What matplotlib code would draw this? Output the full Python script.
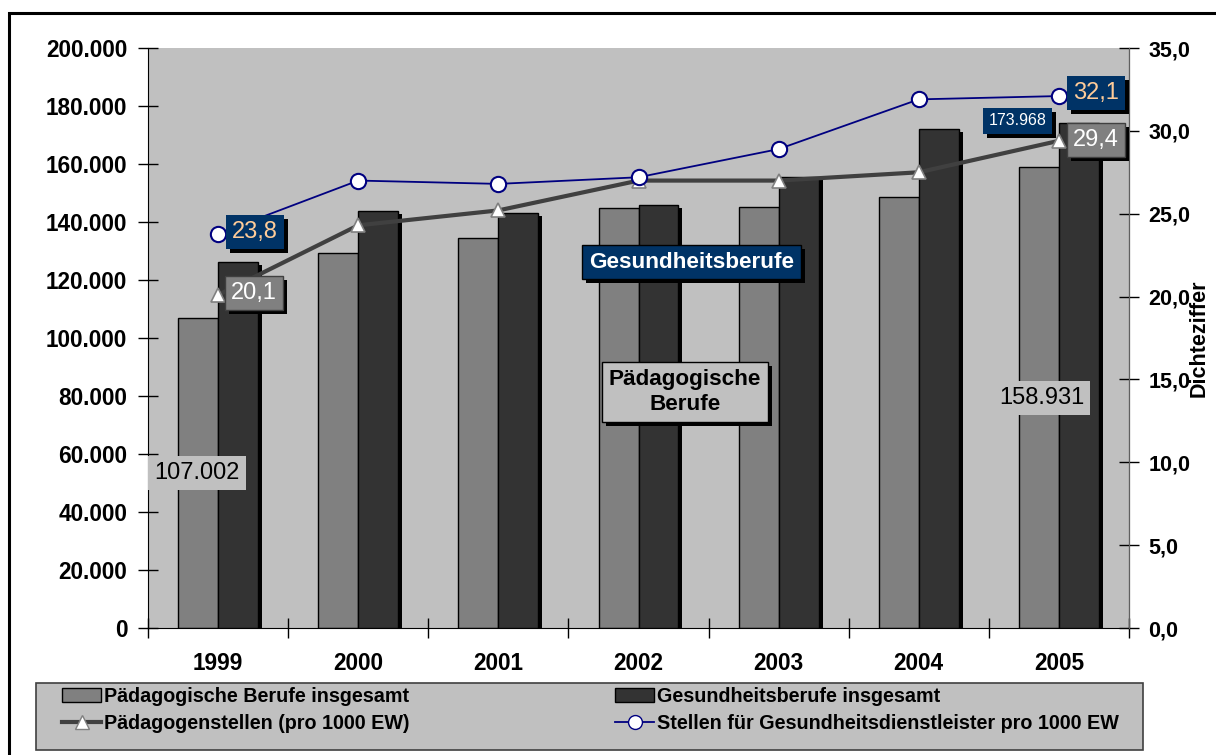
import numpy as np
import matplotlib
matplotlib.use("Agg")
import matplotlib.pyplot as plt
import matplotlib.transforms as mtransforms
from matplotlib.patches import Rectangle, Patch
from matplotlib.lines import Line2D

plt.rcParams['font.family'] = ['Liberation Sans', 'DejaVu Sans']

years = ["1999", "2000", "2001", "2002", "2003", "2004", "2005"]
paed_total = [107002, 129300, 134500, 144800, 145200, 148600, 158931]
gesund_total = [126200, 143800, 143100, 145900, 155500, 172100, 173968]
paed_density = [20.1, 24.3, 25.2, 27.0, 27.0, 27.5, 29.4]
gesund_density = [23.8, 27.0, 26.8, 27.2, 28.9, 31.9, 32.1]
left_ticks = [0, 20000, 40000, 60000, 80000, 100000, 120000, 140000, 160000, 180000, 200000]
right_ticks = [0, 5, 10, 15, 20, 25, 30, 35]

W, H = 1216, 755
fig = plt.figure(figsize=(W / 100, H / 100), dpi=100)
fig.patch.set_facecolor("white")

# figure frame
fig.add_artist(Rectangle((9 / W, -0.05), 1.2, 1 - 13 / H + 0.05, transform=fig.transFigure,
                         fill=False, edgecolor="black", linewidth=2.2))

L, R, T, B = 148, 1129, 48, 628
ax = fig.add_axes([L / W, 1 - B / H, (R - L) / W, (B - T) / H])
ax.set_facecolor("#C0C0C0")
ax2 = ax.twinx()

x = np.arange(len(years))
bw = 0.285
off = 0.1425
pad_c = "#808080"
ges_c = "#333333"

shadow = mtransforms.offset_copy(ax.transData, fig=fig, x=4, y=-3, units="dots")
ax.bar(x - off, paed_total, bw, color="black", transform=shadow, zorder=1)
ax.bar(x - off, paed_total, bw, color=pad_c, edgecolor="black", linewidth=1, zorder=2)
ax.bar(x + off, gesund_total, bw, color="black", transform=shadow, zorder=3)
ax.bar(x + off, gesund_total, bw, color=ges_c, edgecolor="black", linewidth=1, zorder=4)

ax.set_xlim(-0.5, len(years) - 0.5)
ax.set_ylim(0, 200000)
ax2.set_ylim(0, 35)

tfs = 16.3
ax.set_yticks(left_ticks)
ax.set_yticklabels([f"{v:,}".replace(",", ".") for v in left_ticks],
                   fontsize=tfs, fontweight="bold")
ax2.set_yticks(right_ticks)
ax2.set_yticklabels([f"{v:.1f}".replace(".", ",") for v in right_ticks],
                    fontsize=15.5, fontweight="bold")
ax.set_xticks(x)
ax.set_xticklabels(years, fontsize=tfs, fontweight="bold")
ax.tick_params(axis="x", length=0, pad=17.5)
ax.set_xticks(np.arange(len(years) + 1) - 0.5, minor=True)
ax.tick_params(axis="x", which="minor", direction="inout", length=14, width=1)
ax.tick_params(axis="y", direction="inout", length=14, width=1, pad=8)
ax2.tick_params(axis="y", direction="inout", length=14, width=1, pad=7)

for a in (ax, ax2):
    a.spines["top"].set_visible(False)
ax.spines["left"].set_color("black")
ax.spines["bottom"].set_color("black")
ax2.spines["right"].set_color("#606060")
ax2.spines["left"].set_visible(False)
ax2.spines["bottom"].set_visible(False)

fig.text(1199 / W, 1 - 338 / H, "Dichteziffer", rotation=90, ha="center", va="center",
         fontsize=15.5, fontweight="bold")

ax2.plot(x, paed_density, color="#404040", linewidth=3, marker="^", markersize=10,
         markerfacecolor="white", markeredgecolor="#808080", markeredgewidth=1.2, zorder=5)
ax2.plot(x, gesund_density, color="#000080", linewidth=1.3, marker="o", markersize=11,
         markerfacecolor="white", markeredgecolor="#000080", markeredgewidth=1.5, zorder=6)


def box_label(a, xx, yy, s, fc, tc, fs, weight="normal", ec="none", shad=True, pad=0.25):
    if shad:
        st = mtransforms.offset_copy(a.transData, fig=fig, x=4, y=-4, units="dots")
        a.text(xx, yy, s, transform=st, ha="center", va="center", fontsize=fs, fontweight=weight,
               color="none", zorder=7, linespacing=1.25,
               bbox=dict(boxstyle=f"square,pad={pad}", fc="black", ec="none"))
    a.text(xx, yy, s, ha="center", va="center", fontsize=fs, fontweight=weight, color=tc,
           zorder=8, linespacing=1.25,
           bbox=dict(boxstyle=f"square,pad={pad}", fc=fc, ec=ec, lw=1))


navy = "#003366"
orange = "#FFCC99"
box_label(ax2, 0.264, 23.9, "23,8", navy, orange, 17)
box_label(ax2, 0.257, 20.2, "20,1", "#808080", "white", 17, ec="#404040")
box_label(ax2, 6.264, 32.3, "32,1", navy, orange, 17)
box_label(ax2, 6.264, 29.45, "29,4", "#808080", "white", 17, ec="#404040")
box_label(ax2, 5.707, 30.6, "173.968", navy, "white", 11.5, pad=0.35)
box_label(ax2, -0.15, 53400 / 200000 * 35, "107.002", "#C0C0C0", "black", 17, shad=False)
box_label(ax2, 5.879, 79300 / 200000 * 35, "158.931", "#C0C0C0", "black", 17, shad=False)
box_label(ax2, 3.379, 126200 / 200000 * 35, "Gesundheitsberufe", navy, "white", 16.2,
          weight="bold", ec="black", pad=0.3)
box_label(ax2, 3.33, 81400 / 200000 * 35, "Pädagogische\nBerufe", "#C0C0C0", "black", 16.2,
          weight="bold", ec="black", pad=0.3)

# legend box
fig.add_artist(Rectangle((36 / W, 1 - 750 / H), (1143 - 36) / W, (750 - 683) / H,
                         transform=fig.transFigure, facecolor="#C0C0C0",
                         edgecolor="#404040", linewidth=1.2, zorder=0))

h_pb = Patch(facecolor=pad_c, edgecolor="black", label="Pädagogische Berufe insgesamt")
h_pl = Line2D([], [], color="#404040", linewidth=3, marker="^", markersize=10,
              markerfacecolor="white", markeredgecolor="#808080", label="Pädagogenstellen (pro 1000 EW)")
h_gb = Patch(facecolor=ges_c, edgecolor="black", label="Gesundheitsberufe insgesamt")
h_gl = Line2D([], [], color="#000080", linewidth=1.3, marker="o", markersize=10,
              markerfacecolor="white", markeredgecolor="#000080",
              label="Stellen für Gesundheitsdienstleister pro 1000 EW")

lp = {"family": "Liberation Sans", "weight": "bold", "size": 14.2}
common = dict(loc="upper left", frameon=False, prop=lp, borderaxespad=0, borderpad=0,
              handlelength=2.0, handletextpad=0.15, labelspacing=0.4)
leg1 = fig.legend(handles=[h_pb, h_pl], bbox_to_anchor=(62 / W, 1 - 687 / H), **common)
leg2 = fig.legend(handles=[h_gb, h_gl], bbox_to_anchor=(615 / W, 1 - 687 / H), **common)

fig.savefig("out.png", dpi=100)
